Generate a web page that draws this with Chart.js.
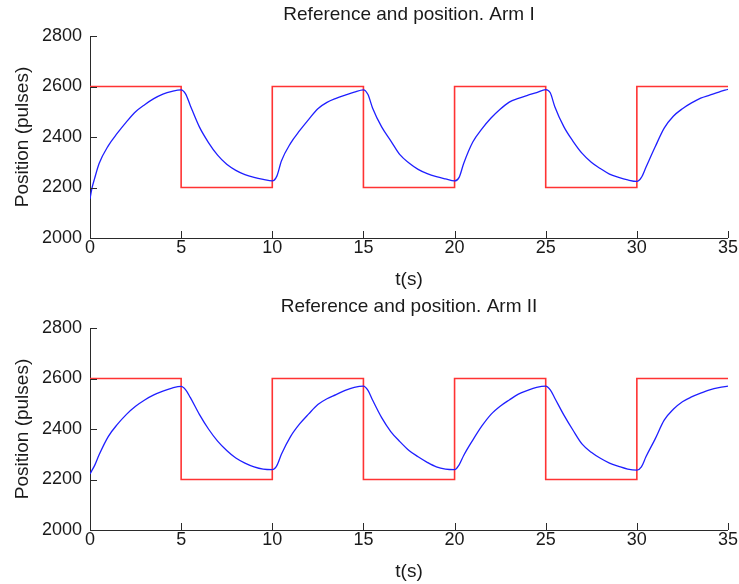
<!DOCTYPE html>
<html>
<head>
<meta charset="utf-8">
<script src="https://cdn.jsdelivr.net/npm/chart.js@4.4.1/dist/chart.umd.min.js"></script>
<style>
    body { margin: 0; background: #fff; }
    .panel { position: absolute; left: 0; width: 739px; height: 292px; }
</style>
</head>
<body>
<div class="panel" style="top:0"><canvas id="arm1Chart" width="739" height="292"></canvas></div>
<div class="panel" style="top:292px"><canvas id="arm2Chart" width="739" height="292"></canvas></div>
<script>
// sample times (s), shared by both arms
const timeS = [
    0, 0.1, 0.25, 0.5, 1, 1.5, 2, 2.5, 3, 3.5, 4, 4.5, 5,
    5.25, 5.5, 6, 6.5, 7, 7.5, 8, 8.5, 9, 9.5, 10,
    10.25, 10.5, 11, 11.5, 12, 12.5, 13, 13.5, 14, 14.5, 15,
    15.25, 15.5, 16, 16.5, 17, 17.5, 18, 18.5, 19, 19.5, 20,
    20.25, 20.5, 21, 21.5, 22, 22.5, 23, 23.5, 24, 24.5, 25,
    25.25, 25.5, 26, 26.5, 27, 27.5, 28, 28.5, 29, 29.5, 30,
    30.25, 30.5, 31, 31.5, 32, 32.5, 33, 33.5, 34, 34.5, 35
];

const posArm1 = [
    2155, 2195, 2235, 2295, 2365, 2415, 2460, 2500, 2528, 2552, 2570, 2581, 2587,
    2570, 2525, 2440, 2378, 2328, 2292, 2268, 2251, 2240, 2232, 2226,
    2245, 2305, 2375, 2425, 2470, 2512, 2537, 2553, 2566, 2578, 2587,
    2568, 2515, 2440, 2385, 2330, 2297, 2272, 2255, 2243, 2234, 2226,
    2240, 2295, 2380, 2432, 2475, 2510, 2538, 2553, 2565, 2576, 2588,
    2575, 2520, 2440, 2383, 2335, 2300, 2275, 2253, 2240, 2230, 2224,
    2240, 2280, 2360, 2435, 2482, 2512, 2535, 2554, 2566, 2578, 2589
];

const posArm2 = [
    2222, 2235, 2255, 2298, 2370, 2418, 2458, 2490, 2515, 2535, 2550, 2562, 2569,
    2555, 2525, 2458, 2400, 2352, 2315, 2285, 2265, 2250, 2241, 2239,
    2255, 2300, 2370, 2420, 2460, 2497, 2520, 2536, 2553, 2565, 2570,
    2553, 2515, 2445, 2390, 2350, 2315, 2290, 2268, 2250, 2241, 2239,
    2258, 2295, 2356, 2412, 2458, 2490, 2515, 2538, 2553, 2565, 2570,
    2555, 2522, 2455, 2395, 2340, 2308, 2284, 2265, 2252, 2241, 2237,
    2250, 2290, 2360, 2435, 2478, 2508, 2527, 2542, 2555, 2564, 2570
];

// square wave reference, switches every 5 s
const refTime = [0, 5, 10, 15, 20, 25, 30, 35];
const refLevel = [2600, 2200, 2600, 2200, 2600, 2200, 2600, 2600];

const xTicks = [0, 5, 10, 15, 20, 25, 30, 35];
const yTicks = [2000, 2200, 2400, 2600, 2800];

const FONT = "'Liberation Sans', Arial, Helvetica, sans-serif";
const TEXT = "#1a1a1a";
const AXIS = "#2a2a2a";

// matlab style ticks pointing into the plot
const innerTicks = {
    id: "innerTicks",
    afterDraw(chart) {
        const ctx = chart.ctx;
        const x = chart.scales.x, y = chart.scales.y;
        const area = chart.chartArea;
        ctx.save();
        ctx.strokeStyle = AXIS;
        ctx.lineWidth = 1;
        ctx.beginPath();
        xTicks.forEach(v => {
            const px = Math.round(x.getPixelForValue(v)) + 0.5;
            ctx.moveTo(px, area.bottom);
            ctx.lineTo(px, area.bottom - 7);
        });
        yTicks.forEach(v => {
            const py = Math.round(y.getPixelForValue(v)) + 0.5;
            ctx.moveTo(area.left, py);
            ctx.lineTo(area.left + 7, py);
        });
        ctx.stroke();
        ctx.restore();
    }
};

function makeChart(canvasId, title, positions) {
    return new Chart(document.getElementById(canvasId), {
        type: "line",
        data: {
            datasets: [{
                label: "Position",
                data: timeS.map((t, i) => ({ x: t, y: positions[i] })),
                borderColor: "#1f1fff",
                borderWidth: 1.3,
                pointRadius: 0,
                cubicInterpolationMode: "monotone"
            }, {
                label: "Reference",
                data: refTime.map((t, i) => ({ x: t, y: refLevel[i] })),
                borderColor: "#ff3333",
                borderWidth: 1.6,
                pointRadius: 0,
                stepped: "before",
                clip: { left: 0, top: 5, right: 5, bottom: 5 }
            }]
        },
        options: {
            responsive: false,
            animation: false,
            layout: { padding: { top: 3, right: 11, bottom: 0, left: 0 } },
            plugins: {
                legend: { display: false },
                tooltip: { enabled: false }
            },
            scales: {
                // empty top axis, only used so the title is centred over the axes
                top: {
                    type: "linear",
                    position: "top",
                    min: 0,
                    max: 35,
                    afterFit: s => { s.height = 33; },
                    ticks: { display: false },
                    grid: { display: false },
                    border: { display: false },
                    title: {
                        display: true,
                        text: title,
                        color: TEXT,
                        font: { family: FONT, size: 19 },
                        padding: { top: 0, bottom: 0 }
                    }
                },
                x: {
                    type: "linear",
                    min: 0,
                    max: 35,
                    afterFit: s => { s.height = 54; },
                    afterBuildTicks: s => { s.ticks = xTicks.map(v => ({ value: v })); },
                    grid: { drawOnChartArea: false, drawTicks: false },
                    border: { display: true, color: AXIS, width: 1 },
                    ticks: {
                        color: TEXT, padding: 1,
                        font: { family: FONT, size: 18, lineHeight: 1 },
                        callback: v => String(v)
                    },
                    title: {
                        display: true,
                        text: "t(s)",
                        color: TEXT,
                        font: { family: FONT, size: 19 },
                        padding: { top: 0, bottom: 1 }
                    }
                },
                y: {
                    min: 2000,
                    max: 2800,
                    afterFit: s => { s.width = 90; },
                    afterBuildTicks: s => { s.ticks = yTicks.map(v => ({ value: v })); },
                    grid: { drawOnChartArea: false, drawTicks: false },
                    border: { display: true, color: AXIS, width: 1 },
                    ticks: {
                        color: TEXT, padding: 8,
                        font: { family: FONT, size: 18 },
                        callback: v => String(v)
                    },
                    title: {
                        display: true,
                        text: "Position (pulses)",
                        color: TEXT,
                        font: { family: FONT, size: 19 },
                        padding: { top: 11, bottom: 0 }
                    }
                }
            }
        },
        plugins: [innerTicks]
    });
}

document.addEventListener("DOMContentLoaded", function () {
    makeChart("arm1Chart", "Reference and position. Arm I", posArm1);
    makeChart("arm2Chart", "Reference and position. Arm II", posArm2);
});
</script>
</body>
</html>
